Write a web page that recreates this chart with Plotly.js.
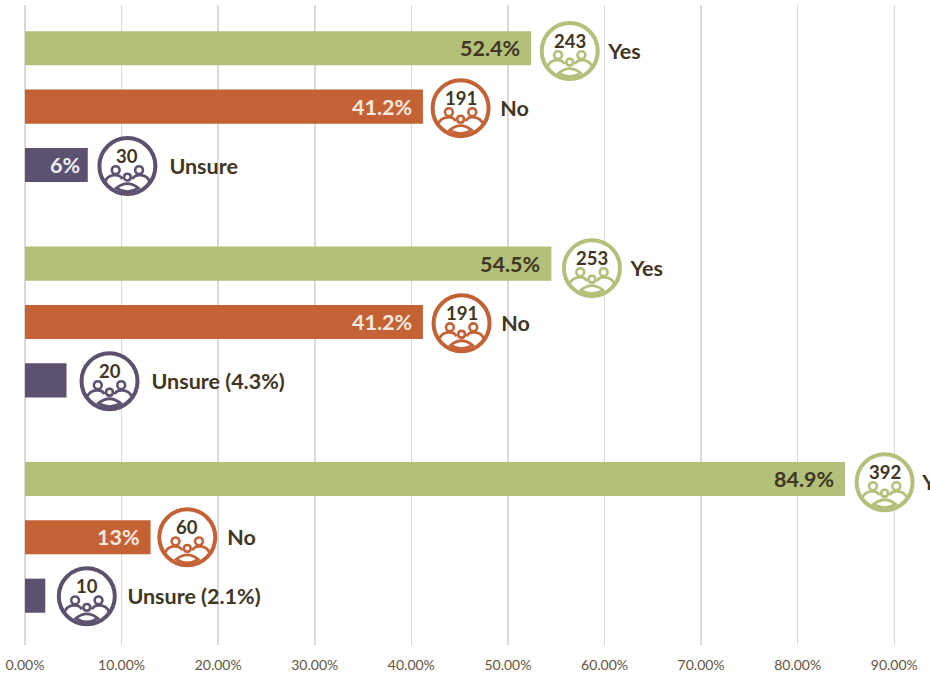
<!DOCTYPE html>
<html>
<head>
<meta charset="utf-8">
<script src="https://cdn.plot.ly/plotly-3.0.1.min.js"></script>
<style>html,body{margin:0;padding:0;background:#fff;overflow:hidden}#chart{width:930px;height:676px}</style>
</head>
<body>
<div id="chart"></div>
<script>
// Group index (the source picture shows no group names)
const groups = [0, 1, 2];

const seriesNames = ["Yes", "No", "Unsure"];
const yesValues = [52.4, 54.5, 84.9];
const noValues = [41.2, 41.2, 13.0];
const unsureValues = [6.5, 4.3, 2.1];

const yesPct = ["52.4%", "54.5%", "84.9%"];
const noPct = ["41.2%", "41.2%", "13%"];
const unsurePct = ["6%", "", ""];

const yesCounts = [243, 253, 392];
const noCounts = [191, 191, 60];
const unsureCounts = [30, 20, 10];

const yesLabels = ["Yes", "Yes", "Yes"];
const noLabels = ["No", "No", "No"];
const unsureLabels = ["Unsure", "Unsure (4.3%)", "Unsure (2.1%)"];

// Badge centres and label starts, in axis units
const yesBadgeX = [56.4, 58.7, 89.0];
const noBadgeX = [45.1, 45.2, 16.8];
const unsureBadgeX = [10.6, 8.75, 6.4];
const yesBadgeY = [-0.258, 0.750, 1.744];
const noBadgeY = [0.007, 1.006, 2.0];
const unsureBadgeY = [0.276, 1.275, 2.274];
const yesLabelX = [60.4, 62.7, 92.9];
const noLabelX = [49.2, 49.3, 20.95];
const unsureLabelX = [14.95, 13.1, 10.6];

const colors = ["#b3c07a", "#c46236", "#5c5270"];
const pctColors = ["#403623", "#f6e9df", "#f1eef3"];
const pctPad = [9, 9, 6];
const labelDrop = 0.012;
const dark = "#403623";
const FONT = "Lato, 'Open Sans', sans-serif";

const badgeSets = [
  {x: yesBadgeX, y: yesBadgeY, n: yesCounts, l: yesLabels, lx: yesLabelX, c: colors[0]},
  {x: noBadgeX, y: noBadgeY, n: noCounts, l: noLabels, lx: noLabelX, c: colors[1]},
  {x: unsureBadgeX, y: unsureBadgeY, n: unsureCounts, l: unsureLabels, lx: unsureLabelX, c: colors[2]}
];

function barTrace(name, values, i) {
  return {
    type: "bar", orientation: "h", name, y: groups, x: values,
    marker: {color: colors[i], line: {width: 0}},
    hoverinfo: "skip"
  };
}

const traces = [
  barTrace(seriesNames[0], yesValues, 0),
  barTrace(seriesNames[1], noValues, 1),
  barTrace(seriesNames[2], unsureValues, 2)
];

badgeSets.forEach(b => {
  traces.push({
    type: "scatter", mode: "markers", x: b.x, y: b.y, cliponaxis: false,
    marker: {symbol: "circle", size: 56, color: "#fff", line: {color: b.c, width: 4}},
    hoverinfo: "skip", showlegend: false
  });
  traces.push({
    type: "scatter", mode: "text", x: b.lx, y: b.y.map(v => v + labelDrop), text: b.l, cliponaxis: false,
    textposition: "middle right",
    textfont: {family: FONT, size: 21.5, color: dark, weight: 700},
    hoverinfo: "skip", showlegend: false
  });
});

// People pictogram, in pixels relative to the badge centre (y grows upward)
function circ(cx, cy, r) {
  return `M${cx-r},${cy} C${cx-r},${cy+r*1.33} ${cx+r},${cy+r*1.33} ${cx+r},${cy} C${cx+r},${cy-r*1.33} ${cx-r},${cy-r*1.33} ${cx-r},${cy} Z`;
}
const peoplePaths = [
  {d: "M-22,-15 C-19,-8 -8,-7 -5,-13", w: 2.8, f: false},
  {d: "M22,-15 C19,-8 8,-7 5,-13", w: 2.8, f: false},
  {d: "M-11,-22 Q0,-13 11,-22 Q0,-29 -11,-22 Z", w: 2.8, f: true},
  {d: circ(-11.7, -4, 3.9), w: 2.6, f: true},
  {d: circ(11.7, -4, 3.9), w: 2.6, f: true},
  {d: circ(0, -11, 3.4), w: 2.6, f: true}
];

const shapes = [];
const annotations = [];
badgeSets.forEach(b => {
  b.x.forEach((x, k) => {
    peoplePaths.forEach(p => shapes.push({
      type: "path", xref: "x", yref: "y", xsizemode: "pixel", ysizemode: "pixel",
      xanchor: x, yanchor: b.y[k], path: p.d, layer: "above",
      line: {color: b.c, width: p.w},
      fillcolor: p.f ? "#fff" : "rgba(0,0,0,0)"
    }));
    annotations.push({
      x, y: b.y[k], xref: "x", yref: "y", yshift: 10, showarrow: false,
      text: String(b.n[k]), xanchor: "center", yanchor: "middle",
      font: {family: FONT, size: 18.5, color: dark, weight: 700}
    });
  });
});

[[yesValues, yesPct], [noValues, noPct], [unsureValues, unsurePct]].forEach(([vals, pct], s) => {
  groups.forEach((g, k) => {
    if (!pct[k]) return;
    annotations.push({
      x: vals[k], y: g + (s - 1) * 0.2706, xref: "x", yref: "y", xshift: -pctPad[s], showarrow: false,
      text: pct[k], xanchor: "right", yanchor: "middle",
      font: {family: FONT, size: 21.5, color: pctColors[s], weight: 700}
    });
  });
});

const layout = {
  width: 930, height: 676,
  margin: {l: 24.5, r: 0, t: 5, b: 31, pad: 0},
  paper_bgcolor: "#fff", plot_bgcolor: "#fff",
  showlegend: false,
  barmode: "group", bargap: 0.187, bargroupgap: 0.416,
  xaxis: {
    range: [0, 93.7], tickmode: "linear", tick0: 0, dtick: 10,
    tickformat: ".2f", ticksuffix: "%", ticks: "outside", ticklen: 7, tickcolor: "rgba(0,0,0,0)",
    showline: false,
    showgrid: true, gridcolor: "#d9d9d9", gridwidth: 1.5,
    zeroline: true, zerolinecolor: "#d9d9d9", zerolinewidth: 1.5,
    tickfont: {family: FONT, size: 14, color: "#5f5644"}, automargin: false
  },
  yaxis: {
    type: "linear", range: [2.5, -0.472], showticklabels: false, ticks: "",
    showgrid: false, zeroline: false, showline: false, automargin: false
  },
  shapes, annotations
};

Plotly.newPlot("chart", traces, layout, {displayModeBar: false, staticPlot: true});
</script>
</body>
</html>
